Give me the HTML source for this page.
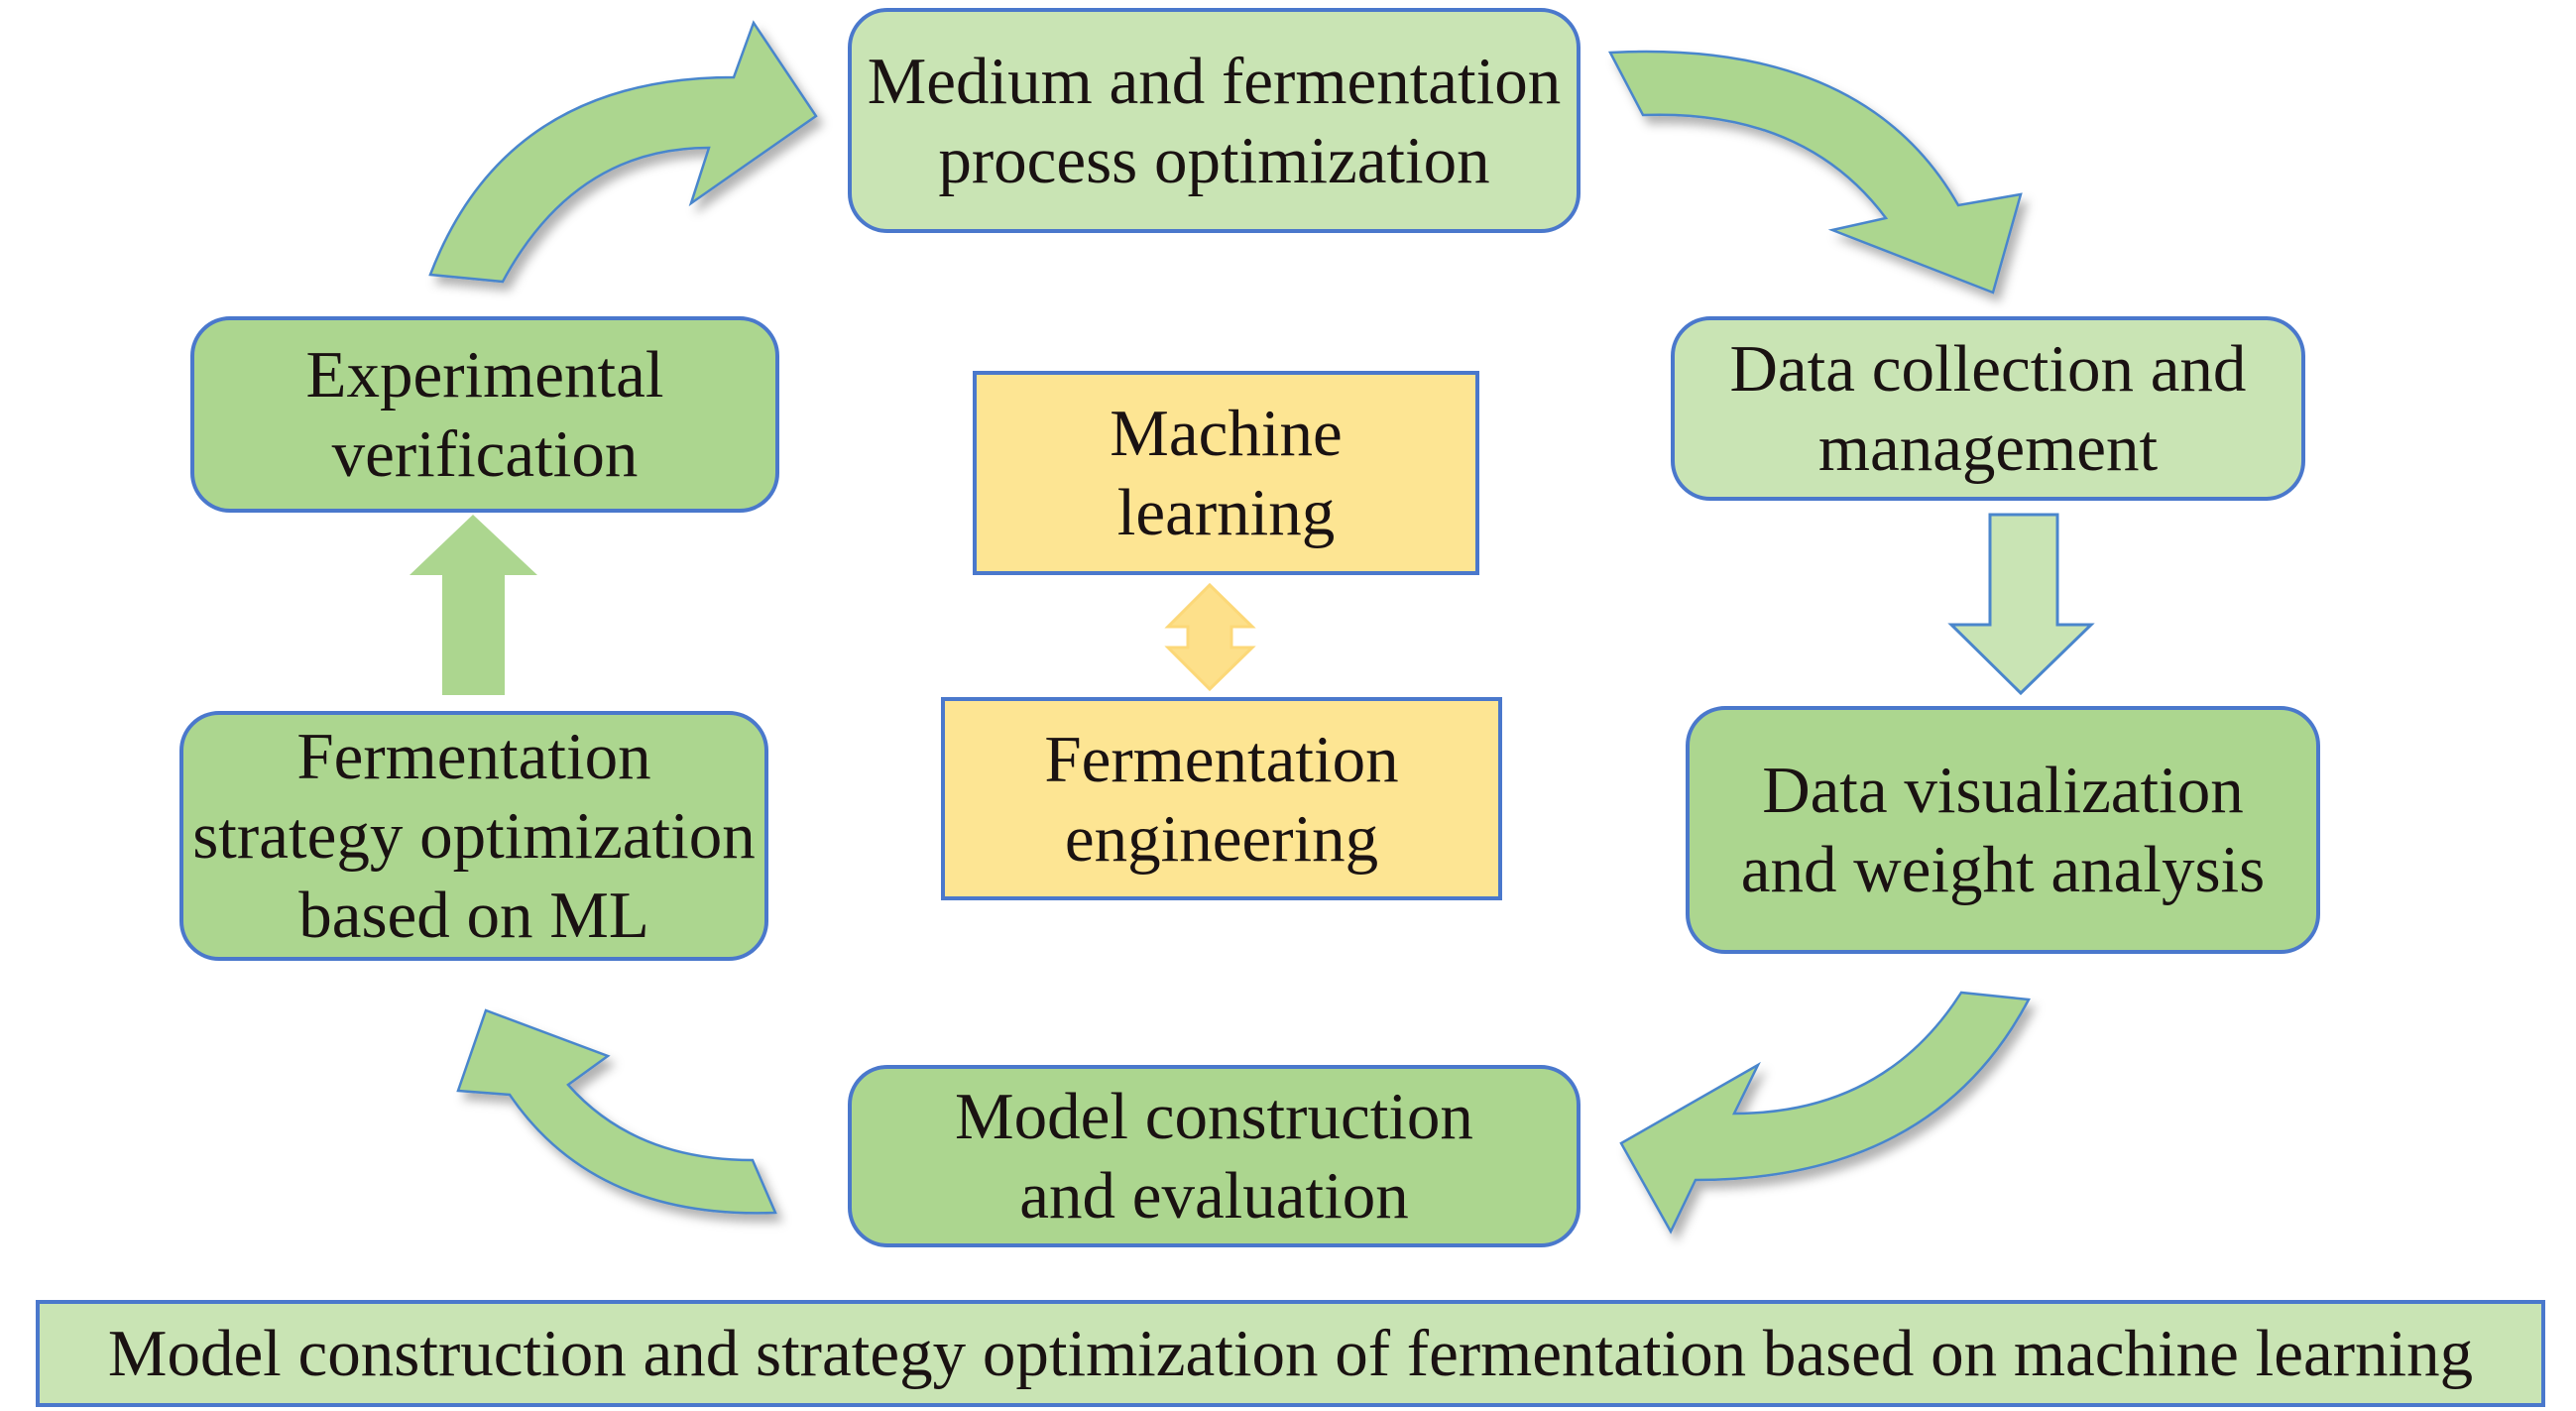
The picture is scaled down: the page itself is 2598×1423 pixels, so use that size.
<!DOCTYPE html>
<html><head><meta charset="utf-8"><style>
html,body{margin:0;padding:0;background:#fff;}
body{width:2598px;height:1423px;position:relative;overflow:hidden;font-family:"Liberation Serif",serif;color:#1a1212;}
.b{position:absolute;box-sizing:border-box;border:4px solid #4a78cc;display:flex;align-items:center;justify-content:center;text-align:center;font-size:67px;line-height:80px;white-space:nowrap;}
.r{border-radius:40px;}
.lg{background:#c9e4b4;}
.dg{background:#acd68f;}
.y{background:#fde593;border-radius:0;}
svg{position:absolute;left:0;top:0;}
</style></head><body>
<svg width="2598" height="1423" viewBox="0 0 2598 1423">
<defs><filter id="s" x="-20%" y="-20%" width="140%" height="140%"><feDropShadow dx="6" dy="8" stdDeviation="5" flood-color="#000" flood-opacity="0.3"/></filter></defs>
<g fill="#acd68f" stroke="#4a86cc" stroke-width="2.5" filter="url(#s)">
<path d="M434,277 Q510,78 740,78 L760,23 L823,117 L697,205 L715,149 Q580,149 507,284 Z"/>
<path d="M1624,53 Q1880,40 1975,207 L2038,196 L2010,295 L1848,232 L1902,220 Q1820,110 1657,116 Z"/>
<path d="M2046,1008 Q1950,1190 1710,1190 L1685,1242 L1635,1153 L1773,1074 L1749,1123 Q1900,1123 1978,1001 Z"/>
<path d="M782,1223 Q600,1230 514,1104 L462,1100 L490,1019 L613,1065 L573,1094 Q640,1170 759,1170 Z"/>
</g>
<path d="M446,701 L446,580 L413,580 L477,519 L542,580 L509,580 L509,701 Z" fill="#acd68f"/>
<path d="M2007,519 L2075,519 L2075,630 L2109,630 L2038,699 L1968,630 L2007,630 Z" fill="#c9e4b4" stroke="#4a86cc" stroke-width="3"/>
<path d="M1220,590 L1263,632 L1242,632 L1242,653 L1263,653 L1220,695 L1178,653 L1198,653 L1198,632 L1178,632 Z" fill="#fde08a" stroke="#fcd878" stroke-width="3"/>
</svg>
<div class="b r lg" style="left:855px;top:8px;width:739px;height:227px;">Medium and fermentation<br>process optimization</div>
<div class="b r dg" style="left:192px;top:319px;width:594px;height:198px;">Experimental<br>verification</div>
<div class="b r lg" style="left:1685px;top:319px;width:640px;height:186px;">Data collection and<br>management</div>
<div class="b y" style="left:981px;top:374px;width:511px;height:206px;">Machine<br>learning</div>
<div class="b y" style="left:949px;top:703px;width:566px;height:205px;">Fermentation<br>engineering</div>
<div class="b r dg" style="left:1700px;top:712px;width:640px;height:250px;">Data visualization<br>and weight analysis</div>
<div class="b r dg" style="left:181px;top:717px;width:594px;height:252px;">Fermentation<br>strategy optimization<br>based on ML</div>
<div class="b r dg" style="left:855px;top:1074px;width:739px;height:184px;">Model construction<br>and evaluation</div>
<div class="b lg" style="left:36px;top:1311px;width:2531px;height:108px;">Model construction and strategy optimization of fermentation based on machine learning</div>
</body></html>
